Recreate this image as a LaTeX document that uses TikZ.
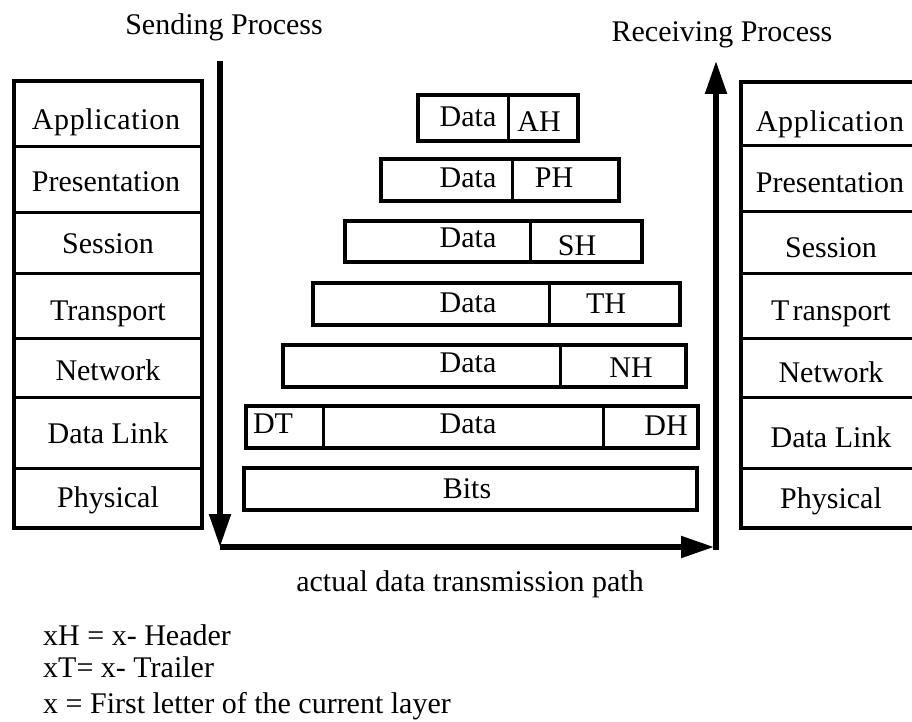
\documentclass[tikz,border=0pt]{standalone}
\usepackage{fontspec}
\setmainfont{Liberation Serif}
\usetikzlibrary{arrows.meta}

\begin{document}
\begin{tikzpicture}[x=1pt,y=-1pt,
  txt/.style={inner sep=0pt,anchor=base,font=\fontsize{30}{36}\selectfont},
  txtw/.style={txt,anchor=base west},
  frame/.style={draw=black,line width=3.2pt},
  divider/.style={draw=black,line width=3pt},
  flow/.style={draw=black,line width=5.2pt,-{Triangle[length=33pt,width=21pt]}},
  spread/.style={font=\fontsize{30}{36}\selectfont\addfontfeature{LetterSpace=2.2}}
]
% page
\fill[white] (0,0) rectangle (912,722);
\clip (0,0) rectangle (912,722);

% ---------- sending stack ----------
\path[frame] (14,81) rectangle (202,528);
\foreach \y in {147,212,273,338,397,468}
  \path[divider] (14,\y) -- (202,\y);
\node[txt,spread] (sApp) at (106,130) {Application};
\node[txt] (sPre) at (106,192) {Presentation};
\node[txt] (sSes) at (108,253) {Session};
\node[txt] (sTra) at (108,320) {Transport};
\node[txt] (sNet) at (108,380) {Network};
\node[txt] (sDat) at (108,443) {Data Link};
\node[txt] (sPhy) at (108,507) {Physical};

% ---------- receiving stack ----------
\path[frame] (741,82) rectangle (925,528);
\foreach \y in {146,211,273,338,397,468}
  \path[divider] (741,\y) -- (925,\y);
\node[txt,spread] (rApp) at (830,132) {Application};
\node[txt] (rPre) at (830,193) {Presentation};
\node[txt] (rSes) at (831,257) {Session};
\node[txt] (rTra) at (831,320) {T\kern3pt ransport};
\node[txt] (rNet) at (831,382) {Network};
\node[txt] (rDat) at (831,447) {Data Link};
\node[txt] (rPhy) at (831,508) {Physical};

% ---------- encapsulated units ----------
% application
\path[frame] (418,95) rectangle (578,141);
\path[divider] (508,95) -- (508,141);
\node[txt] (dA) at (468,127) {Data};
\node[txt] (hA) at (539,132) {AH};
% presentation
\path[frame] (381,159) rectangle (619,201);
\path[divider] (512,159) -- (512,201);
\node[txt] (dP) at (468,188) {Data};
\node[txt] (hP) at (554,188) {PH};
% session
\path[frame] (345,221) rectangle (642,262);
\path[divider] (530,221) -- (530,262);
\node[txt] (dS) at (468,247) {Data};
\node[txt] (hS) at (577,255) {SH};
% transport
\path[frame] (313,283) rectangle (680,325);
\path[divider] (549,283) -- (549,325);
\node[txt] (dT) at (468,312) {Data};
\node[txt] (hT) at (606,313) {TH};
% network
\path[frame] (283,345) rectangle (686,387);
\path[divider] (560,345) -- (560,387);
\node[txt] (dN) at (468,372) {Data};
\node[txt] (hN) at (631,377) {NH};
% data link
\path[frame] (246,406) rectangle (698,448);
\path[divider] (323,406) -- (323,448);
\path[divider] (603,406) -- (603,448);
\node[txt] (tD) at (273,433) {DT};
\node[txt] (dD) at (468,433) {Data};
\node[txt] (hD) at (666,435) {DH};
% physical
\path[frame] (244,468) rectangle (697,510);
\node[txt] (bits) at (467,498) {Bits};

% ---------- process arrows ----------
\node[txt] (sendLbl) at (224,35) {Sending Process};
\node[txt] (recvLbl) at (722,42) {Receiving Process};
\coordinate (sTop) at (220,61);
\coordinate (sBot) at (220,547);
\coordinate (pathEnd) at (714,547);
\coordinate (rBot) at (716,550);
\coordinate (rTop) at (716,61);
\draw[flow] (sTop) -- (sBot);
\draw[flow] (sBot) -- (pathEnd);
\draw[flow] (rBot) -- (rTop);
\node[txt] (pathLbl) at (470,591) {actual data transmission path};

% ---------- legend ----------
\node[txtw] (legH) at (43,645) {xH = x- Header};
\node[txtw] (legT) at (43,677) {xT= x- Trailer};
\node[txtw] (legX) at (43,713) {x = First letter of the current layer};
\end{tikzpicture}
\end{document}
